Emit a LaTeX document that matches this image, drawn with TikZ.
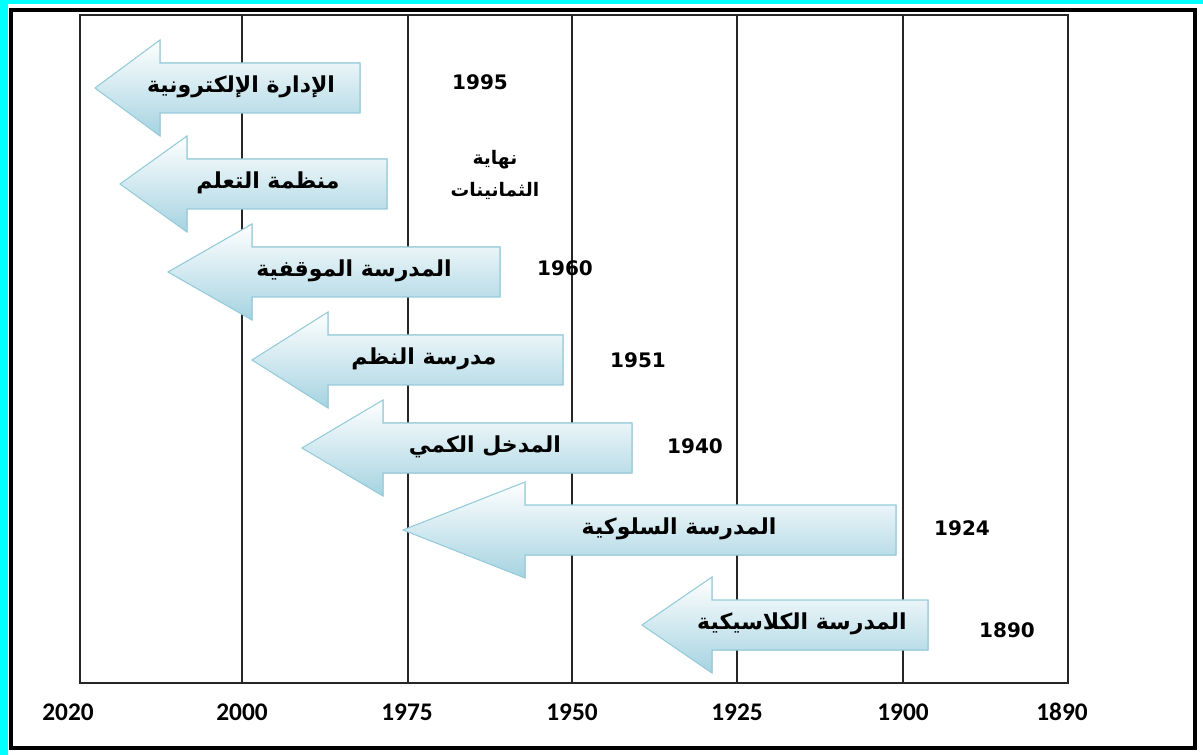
\documentclass[tikz,border=0pt]{standalone}
\usepackage{fontspec}
\setmainfont{DejaVu Sans}
\newfontfamily\arabicfont[Script=Arabic]{DejaVu Sans}
\newfontfamily\axisfont{Carlito}
\TeXXeTstate=1
\definecolor{frameCyan}{RGB}{0,255,255}
\definecolor{arrowBlue}{RGB}{165,211,225}
\definecolor{arrowEdge}{RGB}{150,205,220}

\begin{document}
\begin{tikzpicture}[x=0.75pt, y=-0.75pt,
    school/.style={draw=arrowEdge, line width=0.8pt, top color=white, bottom color=arrowBlue},
    schoolText/.style={font=\arabicfont\bfseries\fontsize{16.5}{18}\selectfont},
    yearText/.style={font=\bfseries\fontsize{15}{17}\selectfont},
    axisText/.style={font=\axisfont\bfseries\fontsize{19}{21}\selectfont}]

    \useasboundingbox (0,0) rectangle (1203,755);
    \fill[frameCyan] (0,0) rectangle (1203,755);
    \fill[white] (8,4) rectangle (1203,755);
    \draw[line width=2.8pt] (11,10) rectangle (1195,748);

    % grid
    \draw[line width=1.4pt, black!85] (80,15) rectangle (1068,683);
    \foreach \x in {242,408,572,737,903}
        \draw[line width=1.4pt, black!85] (\x,15) -- (\x,683);

    % axis
    \foreach \x/\yr in {68/2020, 242/2000, 407/1975, 572/1950, 737/1925, 903/1900, 1062/1890}
        \node[axisText] (ax\yr) at (\x,712) {\yr};

    % arrows
    \foreach \i/\tx/\bx/\rx/\y/\lx/\txt in {
        1/95/160/360/88/241/الإدارة الإلكترونية,
        2/120/187/387/184/268/منظمة التعلم,
        3/168/252/500/272/354/المدرسة الموقفية,
        4/252/328/563/360/424/مدرسة النظم,
        5/302/383/632/448/485/المدخل الكمي,
        6/403/525/896/530/679/المدرسة السلوكية,
        7/642/712/928/625/802/المدرسة الكلاسيكية}{
        \filldraw[school] (\tx,\y) -- (\bx,\y-48) -- (\bx,\y-25) -- (\rx,\y-25)
            -- (\rx,\y+25) -- (\bx,\y+25) -- (\bx,\y+48) -- cycle;
        \node[schoolText] (s\i) at (\lx,\y-1) {\beginR\txt\endR};
    }

    % dates
    \node[yearText] (y1995) at (480,82) {1995};
    \node[yearText, font=\arabicfont\bfseries\fontsize{14}{24}\selectfont, align=center] (y80s) at (495,175)
        {\beginR نهاية\endR\\\beginR الثمانينات\endR};
    \node[yearText] (y1960) at (565,268) {1960};
    \node[yearText] (y1951) at (638,360) {1951};
    \node[yearText] (y1940) at (695,446) {1940};
    \node[yearText] (y1924) at (962,528) {1924};
    \node[yearText] (y1890) at (1007,630) {1890};
\end{tikzpicture}
\end{document}
